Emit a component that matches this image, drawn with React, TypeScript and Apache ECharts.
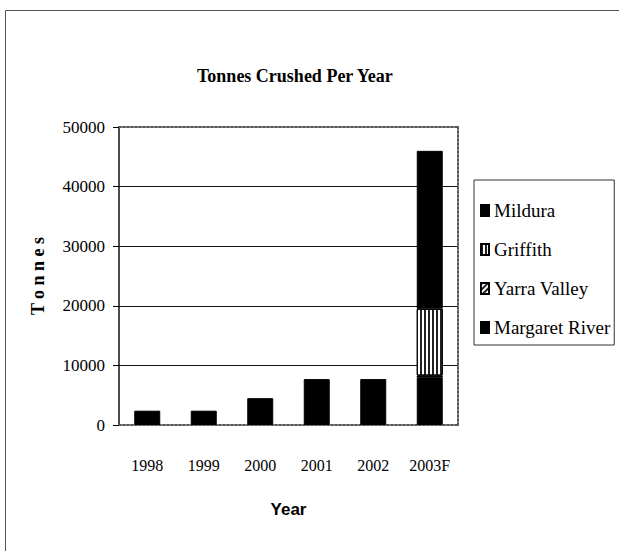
import React, { useEffect, useRef } from "react";
import * as echarts from "echarts";

// Crush volumes by region, tonnes
const years = ["1998", "1999", "2000", "2001", "2002", "2003F"];
const margaretRiver = [2400, 2400, 4500, 7700, 7700, 8000];
const yarraValley = [null, null, null, null, null, 300];
const griffith = [null, null, null, null, null, 11200];
const mildura = [null, null, null, null, null, 26500];
const legendOrder = ["Mildura", "Griffith", "Yarra Valley", "Margaret River"];

const SERIF = "Liberation Serif";
const SANS = "Liberation Sans";

export default function App() {
  const ref = useRef<HTMLDivElement>(null);

  useEffect(() => {
    if (!ref.current) return;
    const chart = echarts.init(ref.current, undefined, { renderer: "svg" });

    const stripes = (rotation: number, color: string) => ({
      symbol: "rect",
      symbolSize: 1,
      color,
      dashArrayX: [2, 2],
      dashArrayY: [1, 0],
      rotation,
    });

    const barBase = {
      type: "bar" as const,
      stack: "total",
      barWidth: "46%",
    };

    const dottedFrame = { color: "#555", width: 2, type: "dotted" as const };

    chart.setOption({
      animation: false,
      backgroundColor: "#fff",
      title: {
        text: "Tonnes Crushed Per Year",
        left: 192,
        top: 62,
        textStyle: {
          fontFamily: SERIF,
          fontWeight: "bold",
          fontSize: 18,
          color: "#000",
        },
      },
      legend: {
        orient: "vertical",
        left: 474,
        top: 180,
        data: legendOrder,
        itemWidth: 8,
        itemHeight: 11,
        itemGap: 20,
        padding: [21, 4, 8, 6],
        borderColor: "#333",
        borderWidth: 1,
        icon: "rect",
        textStyle: { fontFamily: SERIF, fontSize: 19, color: "#000" },
      },
      grid: { left: 119, right: 161, top: 127, bottom: 126 },
      xAxis: [
        {
          type: "category",
          data: years,
          axisLine: { onZero: false, lineStyle: dottedFrame },
          axisTick: {
            length: 7,
            lineStyle: { color: "#000", width: 1, type: "solid" },
          },
          axisLabel: {
            fontFamily: SERIF,
            fontSize: 16,
            color: "#000",
            margin: 32,
          },
          name: "Year",
          nameLocation: "middle",
          nameGap: 76,
          nameTextStyle: {
            fontFamily: SANS,
            fontWeight: "bold",
            fontSize: 17,
            color: "#000",
          },
        },
        {
          type: "category",
          data: years,
          position: "top",
          axisLine: { onZero: false, lineStyle: dottedFrame },
          axisTick: { show: false },
          axisLabel: { show: false },
        },
      ],
      yAxis: [
        {
          type: "value",
          min: 0,
          max: 50000,
          interval: 10000,
          axisLine: { show: true, lineStyle: { color: "#111", width: 1.5 } },
          axisTick: {
            show: true,
            length: 6,
            lineStyle: { color: "#000" },
          },
          axisLabel: {
            fontFamily: SERIF,
            fontSize: 17,
            color: "#000",
            margin: 14,
            formatter: (v: number) => String(v),
          },
          splitLine: {
            show: true,
            showMinLine: false,
            showMaxLine: false,
            lineStyle: { color: "#111", width: 1 },
          },
          name: "T o n n e s",
          nameLocation: "middle",
          nameGap: 72,
          nameTextStyle: {
            fontFamily: SERIF,
            fontWeight: "bold",
            fontSize: 18,
            color: "#000",
          },
        },
        {
          type: "value",
          min: 0,
          max: 50000,
          interval: 10000,
          position: "right",
          axisLine: { show: true, onZero: false, lineStyle: dottedFrame },
          axisTick: { show: false },
          axisLabel: { show: false },
          splitLine: { show: false },
        },
      ],
      series: [
        {
          ...barBase,
          name: "Margaret River",
          data: margaretRiver,
          itemStyle: { color: "#000", borderColor: "#000", borderWidth: 1 },
        },
        {
          ...barBase,
          name: "Yarra Valley",
          data: yarraValley,
          itemStyle: {
            color: "#fff",
            borderColor: "#000",
            borderWidth: 1,
            decal: stripes(Math.PI / 4, "#222"),
          },
        },
        {
          ...barBase,
          name: "Griffith",
          data: griffith,
          itemStyle: {
            color: "#fff",
            borderColor: "#000",
            borderWidth: 1,
            decal: stripes(0, "#222"),
          },
        },
        {
          ...barBase,
          name: "Mildura",
          data: mildura,
          itemStyle: { color: "#000", borderColor: "#000", borderWidth: 1 },
        },
      ],
      graphic: [
        {
          type: "rect",
          silent: true,
          shape: { x: 5.5, y: 10.5, width: 700, height: 700 },
          style: { fill: "none", stroke: "#555", lineWidth: 1 },
        },
      ],
    });

    return () => chart.dispose();
  }, []);

  return (
    <div
      ref={ref}
      style={{ position: "absolute", left: 0, top: 0, width: 619, height: 551 }}
    />
  );
}
